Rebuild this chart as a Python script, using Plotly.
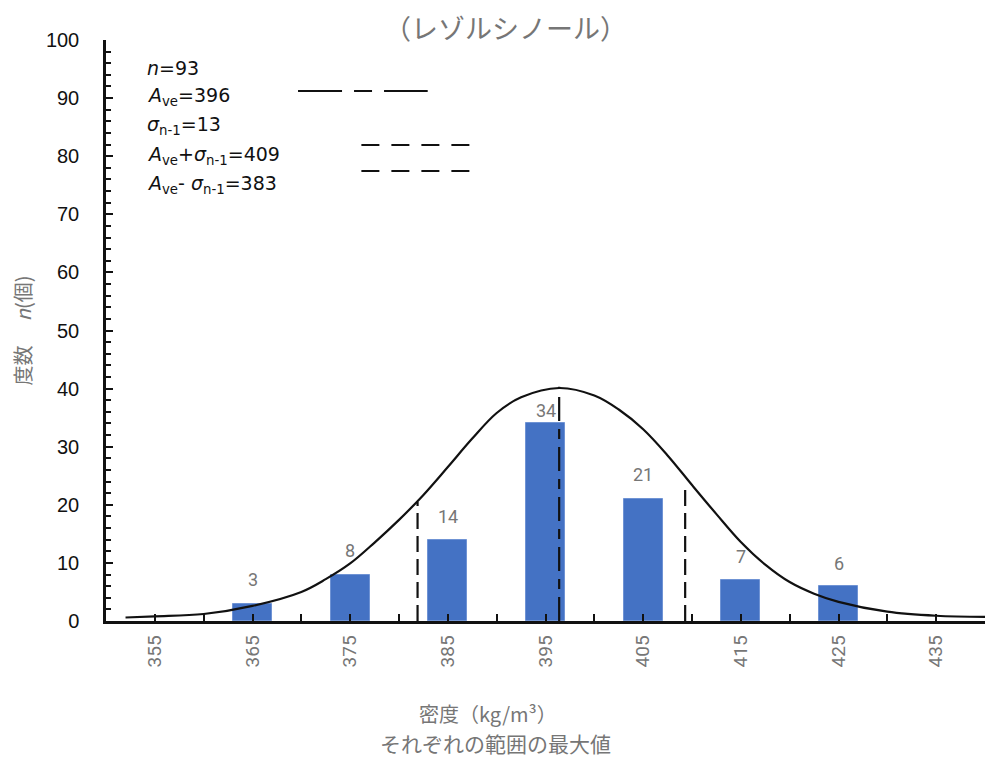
import plotly.graph_objects as go

# ---- data ----
bin_max = [365, 375, 385, 395, 405, 415, 425]
counts = [3, 8, 14, 34, 21, 7, 6]
label_shift = [24, 24, 23, 13, 24, 24, 23]

curve_x = [352, 355, 360, 365, 370, 372.5, 375, 377.5, 380, 382.5, 385, 387.5, 390, 392.5,
           396.4, 400, 402.5, 405, 407.5, 410, 412.5, 415, 417.5, 420, 422.5, 425,
           430, 435, 440]
curve_y = [0.6, 0.8, 1.2, 2.6, 5.0, 7.2, 9.9, 13.5, 17.4, 21.7, 26.5, 31.4, 35.8, 38.5,
           40.1, 38.8, 36.4, 33.0, 28.5, 23.4, 18.4, 13.6, 9.7, 6.7, 4.7, 3.3,
           1.6, 0.9, 0.7]

mean_x = [396.4, 396.4]
mean_y = [0, 40.3]
lo_x = [381.9, 381.9]
lo_y = [0, 20.5]
hi_x = [409.3, 409.3]
hi_y = [0, 23.4]

x_tick_vals = [355, 365, 375, 385, 395, 405, 415, 425, 435]
y_tick_vals = [0, 10, 20, 30, 40, 50, 60, 70, 80, 90, 100]

legend_lines = [
    "<i>n</i>=93",
    "<i>A</i><sub>ve</sub>=396",
    "<i>σ</i><sub>n-1</sub>=13",
    "<i>A</i><sub>ve</sub>+<i>σ</i><sub>n-1</sub>=409",
    "<i>A</i><sub>ve</sub>- <i>σ</i><sub>n-1</sub>=383",
]

BAR = "#4472C4"
GRAY = "#767676"

# page has an 8px body margin; plot area target: x 97..985, y 40..621 (window px)
OFF = 8
L, R, T, B = 97, 985, 40, 621
W, H = 1008 - OFF, 758 - OFF
PW, PH = R - L, B - T

def px(xp):
    return (xp - L) / PW

def py(yp):
    return (B - yp) / PH

fig = go.Figure()
fig.add_trace(go.Bar(x=bin_max, y=counts, width=4, marker=dict(color=BAR, line=dict(color="#6f93d4", width=1)),
                     showlegend=False, hoverinfo="skip"))
fig.add_trace(go.Scatter(x=curve_x, y=curve_y, mode="lines",
                         line=dict(color="#111111", width=2.2, shape="spline", smoothing=1.0),
                         showlegend=False, hoverinfo="skip"))
fig.add_trace(go.Scatter(x=mean_x, y=mean_y, mode="lines",
                         line=dict(color="#111111", width=2.2, dash="24px,8px,10px,8px"),
                         showlegend=False, hoverinfo="skip"))
for xs, ys in [(lo_x, lo_y), (hi_x, hi_y)]:
    fig.add_trace(go.Scatter(x=xs, y=ys, mode="lines",
                             line=dict(color="#111111", width=2.2, dash="16px,7px"),
                             showlegend=False, hoverinfo="skip"))

annotations = []
for xv, yv, sh in zip(bin_max, counts, label_shift):
    annotations.append(dict(x=xv, y=yv, text=str(yv), showarrow=False, yshift=sh,
                            xref="x", yref="y", yanchor="middle",
                            font=dict(family="Roboto, Liberation Sans, sans-serif", size=18, color=GRAY)))

line_px = [68, 97, 126, 155, 184]
for txt, yp in zip(legend_lines, line_px):
    annotations.append(dict(x=px(136), y=py(yp), xref="paper", yref="paper",
                            xanchor="left", yanchor="middle", showarrow=False, text=txt,
                            font=dict(family="DejaVu Sans, Liberation Sans, sans-serif", size=19, color="#111111")))

annotations.append(dict(x=px(501), y=py(27), xref="paper", yref="paper",
                        xanchor="center", yanchor="middle", showarrow=False, text="（レゾルシノール）",
                        font=dict(family="Noto Sans CJK JP, sans-serif", size=27, color=GRAY)))
annotations.append(dict(x=px(483), y=py(714), xref="paper", yref="paper",
                        xanchor="center", yanchor="middle", showarrow=False, text="密度（kg/m³）",
                        font=dict(family="Noto Sans CJK JP, sans-serif", size=20, color=GRAY)))
annotations.append(dict(x=px(490), y=py(743), xref="paper", yref="paper",
                        xanchor="center", yanchor="middle", showarrow=False, text="それぞれの範囲の最大値",
                        font=dict(family="Noto Sans CJK JP, sans-serif", size=21, color=GRAY)))

shapes = []
def paper_line(x0, x1, yp, dash):
    shapes.append(dict(type="line", xref="paper", yref="paper",
                       x0=px(x0), x1=px(x1), y0=py(yp), y1=py(yp),
                       line=dict(color="#111111", width=2.2, dash=dash)))
paper_line(291, 422, 91, "44px,12px,18px,12px")
paper_line(355, 466, 145, "18px,12px")
paper_line(355, 466, 171, "18px,12px")

fig.update_layout(
    width=W, height=H,
    margin=dict(l=L - OFF, r=W - (R - OFF), t=T - OFF, b=H - (B - OFF), pad=0),
    paper_bgcolor="white", plot_bgcolor="white",
    showlegend=False,
    annotations=annotations,
    shapes=shapes,
    bargap=0,
    xaxis=dict(range=[350, 440], tickvals=x_tick_vals, ticktext=[str(v) for v in x_tick_vals],
               tickangle=-90, ticks="inside", ticklen=7, tickwidth=2, tickcolor="#111111",
               showline=True, linecolor="#111111", linewidth=2.5, showgrid=False, zeroline=False,
               minor=dict(tickvals=[350 + 5 * i for i in range(19)], ticks="inside", ticklen=7,
                          tickwidth=2, tickcolor="#111111", showgrid=False),
               tickfont=dict(family="Roboto, Liberation Sans, sans-serif", size=19, color=GRAY),
               ticklabelstandoff=4),
    yaxis=dict(range=[0, 100], tickvals=y_tick_vals, ticks="inside", ticklen=7, tickwidth=2,
               tickcolor="#111111", showline=True, linecolor="#111111", linewidth=2.5,
               showgrid=False, zeroline=False,
               minor=dict(dtick=2, tick0=0, ticks="inside", ticklen=5, tickwidth=2,
                          tickcolor="#111111", showgrid=False),
               tickfont=dict(family="Liberation Sans, Arial, sans-serif", size=20, color="#111111"),
               ticklabelstandoff=20,
               title=dict(text="度数　 <i>n</i>(個)", standoff=12,
                          font=dict(family="Noto Sans CJK JP, sans-serif", size=20, color=GRAY))),
)

fig.write_html("out.html")
